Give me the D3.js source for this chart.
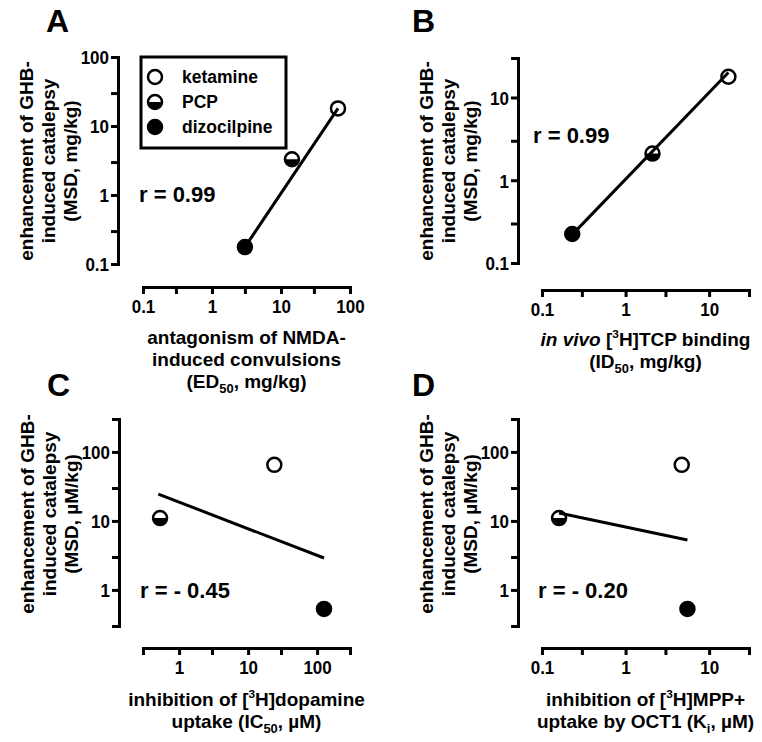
<!DOCTYPE html>
<html><head><meta charset="utf-8">
<script src="https://cdn.jsdelivr.net/npm/d3@7"></script>
<style>
body{margin:0;background:#fff}
text{font-family:"Liberation Sans",Arial,Helvetica,sans-serif;font-weight:bold;fill:#000}
</style>
</head><body>
<svg id="chart" width="762" height="742" xmlns="http://www.w3.org/2000/svg"></svg>
<script>
// ---------- data ----------
const compounds = ["ketamine", "PCP", "dizocilpine"];
const markerKinds = ["open", "half", "filled"];

// Panel A: antagonism of NMDA-induced convulsions vs catalepsy (mg/kg)
const aX = [67, 14.4, 3.0];
const aY = [18, 3.3, 0.176];
const aFitX = [3.0, 67];
const aFitY = [0.176, 18];
// Panel B: in vivo [3H]TCP binding vs catalepsy (mg/kg)
const bX = [17, 2.1, 0.23];
const bY = [17.8, 2.1, 0.224];
const bFitX = [0.23, 17];
const bFitY = [0.22, 20];
// Panel C: [3H]dopamine uptake vs catalepsy (µM/kg)
const cX = [24, 0.53, 126];
const cY = [65, 11, 0.53];
const cFitX = [0.5, 126];
const cFitY = [24.5, 2.9];
// Panel D: [3H]MPP+ uptake by OCT1 vs catalepsy (µM/kg)
const dX = [4.7, 0.16, 5.5];
const dY = [65, 11, 0.53];
const dFitX = [0.16, 5.5];
const dFitY = [13, 5.3];

// tick values (labelled) and minor ticks
const aXTicks = [0.1, 1, 10, 100], aXMinor = [0.3, 3, 30];
const aYTicks = [0.1, 1, 10, 100], aYMinor = [0.3, 3, 30];
const bXTicks = [0.1, 1, 10], bXMinor = [0.3, 3, 30];
const bYTicks = [0.1, 1, 10], bYMinor = [0.3, 3, 30];
const cXTicks = [1, 10, 100], cXMinor = [0.3, 3, 30, 300];
const cYTicks = [1, 10, 100], cYMinor = [0.3, 3, 30, 300];
const dXTicks = [0.1, 1, 10], dXMinor = [0.3, 3, 30];
const dYTicks = [1, 10, 100], dYMinor = [0.3, 3, 30, 300];

const rA = "r = 0.99", rB = "r = 0.99", rC = "r = - 0.45", rD = "r = - 0.20";

// ---------- drawing ----------
const svg = d3.select("#chart");
const fmt = d => (d < 1 ? String(d) : d3.format("d")(d));
const TICK_FS = 17, TICK_SY = 1.12, TITLE_FS = 19;

function addRich(sel, parts, size) {
  parts.forEach(p => {
    const t = sel.append("tspan").text(p.t);
    if (p.s === "sub") { t.attr("font-size", size * 0.68).attr("dy", size * 0.28); }
    else if (p.s === "sup") { t.attr("font-size", size * 0.62).attr("dy", -size * 0.42); }
    else if (p.s === "i") { t.attr("font-style", "italic"); }
    if (p.back) t.attr("dy", p.back);
  });
}

function marker(g, kind, cx, cy, r) {
  const m = g.append("g").attr("transform", `translate(${cx},${cy})`);
  m.append("circle").attr("r", r).attr("fill", kind === "filled" ? "#000" : "#fff");
  if (kind === "half") {
    m.append("path").attr("d", `M${-r},0 A${r},${r} 0 0 0 ${r},0 Z`).attr("fill", "#000");
  }
  m.append("circle").attr("r", r).attr("fill", "none").attr("stroke", "#000").attr("stroke-width", 2.5);
}

function panel(cfg) {
  const g = svg.append("g");
  const x = d3.scaleLog().domain(cfg.xDom).range([cfg.x0, cfg.x1]);
  const y = d3.scaleLog().domain(cfg.yDom).range([cfg.y0, cfg.y1]);

  // x axis
  const xa = g.append("g").attr("transform", `translate(0,${cfg.axY})`)
    .call(d3.axisBottom(x).tickValues(cfg.xTicks.concat(cfg.xMinor).sort((a, b) => a - b))
      .tickFormat(d => cfg.xTicks.includes(d) ? fmt(d) : "")
      .tickSize(7).tickSizeOuter(0).tickPadding(5));
  // y axis
  const ya = g.append("g").attr("transform", `translate(${cfg.axX},0)`)
    .call(d3.axisLeft(y).tickValues(cfg.yTicks.concat(cfg.yMinor).sort((a, b) => a - b))
      .tickFormat(d => cfg.yTicks.includes(d) ? fmt(d) : "")
      .tickSize(7).tickSizeOuter(0).tickPadding(3));
  [xa, ya].forEach(a => {
    a.select(".domain").attr("stroke", "#000").attr("stroke-width", 3).attr("stroke-linecap", "square");
    a.selectAll(".tick line").attr("stroke", "#000").attr("stroke-width", 3);
    a.selectAll(".tick text").attr("font-size", TICK_FS).attr("font-family", "Liberation Sans, Arial, sans-serif")
      .attr("font-weight", "bold").attr("fill", "#000");
  });
  xa.selectAll(".tick text").attr("y", null).attr("dy", null)
    .attr("transform", `translate(0,26) scale(1,${TICK_SY})`);
  ya.selectAll(".tick text").attr("x", null).attr("dy", "0.36em")
    .attr("transform", `translate(-9,0) scale(1,${TICK_SY})`);

  // markers
  cfg.xs.forEach((v, i) => marker(g, markerKinds[i], x(v), y(cfg.ys[i]), 7));
  // fit line
  g.append("path")
    .attr("d", d3.line().x(d => x(d[0])).y(d => y(d[1]))(cfg.fitX.map((v, i) => [v, cfg.fitY[i]])))
    .attr("fill", "none").attr("stroke", "#000").attr("stroke-width", 3);

  // panel letter
  g.append("text").attr("x", cfg.letterX).attr("y", cfg.letterY).attr("font-size", 32).text(cfg.letter);
  // r label
  g.append("text").attr("x", cfg.rX).attr("y", cfg.rY).attr("font-size", 22).text(cfg.r);

  // y title
  const yt = g.append("g").attr("transform", `translate(${cfg.axX - 85},${cfg.yTitleC}) rotate(-90)`);
  cfg.yTitle.forEach((line, i) => {
    yt.append("text").attr("x", 0).attr("y", i * 22).attr("text-anchor", "middle").attr("font-size", TITLE_FS).text(line);
  });
  // x title
  const xc = (cfg.x0 + cfg.x1) / 2;
  cfg.xTitle.forEach((parts, i) => {
    const t = g.append("text").attr("x", xc).attr("y", cfg.xTitleY + i * 22).attr("text-anchor", "middle").attr("font-size", TITLE_FS);
    addRich(t, parts, TITLE_FS);
  });
}

panel({
  letter: "A", letterX: 46, letterY: 32,
  x0: 143, x1: 350, y0: 264, y1: 57, axX: 118, axY: 287,
  xDom: [0.1, 100], yDom: [0.1, 100],
  xTicks: aXTicks, xMinor: aXMinor, yTicks: aYTicks, yMinor: aYMinor,
  xs: aX, ys: aY, fitX: aFitX, fitY: aFitY,
  r: rA, rX: 139, rY: 202,
  yTitle: ["enhancement of GHB-", "induced catalepsy", "(MSD, mg/kg)"], yTitleC: 161,
  xTitle: [[{t: "antagonism of NMDA-"}], [{t: "induced convulsions"}],
           [{t: "(ED"}, {t: "50", s: "sub"}, {t: ", mg/kg)", back: -TITLE_FS * 0.28}]],
  xTitleY: 344
});
panel({
  letter: "B", letterX: 412, letterY: 32,
  x0: 542, x1: 749, y0: 263, y1: 58, axX: 518, axY: 290,
  xDom: [0.1, 30], yDom: [0.1, 30],
  xTicks: bXTicks, xMinor: bXMinor, yTicks: bYTicks, yMinor: bYMinor,
  xs: bX, ys: bY, fitX: bFitX, fitY: bFitY,
  r: rB, rX: 533, rY: 143,
  yTitle: ["enhancement of GHB-", "induced catalepsy", "(MSD, mg/kg)"], yTitleC: 161,
  xTitle: [[{t: "in vivo", s: "i"}, {t: " ["}, {t: "3", s: "sup"}, {t: "H]TCP binding", back: TITLE_FS * 0.42}],
           [{t: "(ID"}, {t: "50", s: "sub"}, {t: ", mg/kg)", back: -TITLE_FS * 0.28}]],
  xTitleY: 346
});
panel({
  letter: "C", letterX: 47, letterY: 396,
  x0: 143, x1: 350, y0: 626, y1: 419, axX: 119, axY: 648,
  xDom: [0.3, 300], yDom: [0.3, 300],
  xTicks: cXTicks, xMinor: cXMinor, yTicks: cYTicks, yMinor: cYMinor,
  xs: cX, ys: cY, fitX: cFitX, fitY: cFitY,
  r: rC, rX: 140, rY: 598,
  yTitle: ["enhancement of GHB-", "induced catalepsy", "(MSD, \u00b5M/kg)"], yTitleC: 514,
  xTitle: [[{t: "inhibition of ["}, {t: "3", s: "sup"}, {t: "H]dopamine", back: TITLE_FS * 0.42}],
           [{t: "uptake (IC"}, {t: "50", s: "sub"}, {t: ", \u00b5M)", back: -TITLE_FS * 0.28}]],
  xTitleY: 706
});
panel({
  letter: "D", letterX: 412, letterY: 396,
  x0: 542, x1: 749, y0: 626, y1: 419, axX: 518, axY: 648,
  xDom: [0.1, 30], yDom: [0.3, 300],
  xTicks: dXTicks, xMinor: dXMinor, yTicks: dYTicks, yMinor: dYMinor,
  xs: dX, ys: dY, fitX: dFitX, fitY: dFitY,
  r: rD, rX: 538, rY: 598,
  yTitle: ["enhancement of GHB-", "induced catalepsy", "(MSD, \u00b5M/kg)"], yTitleC: 514,
  xTitle: [[{t: "inhibition of ["}, {t: "3", s: "sup"}, {t: "H]MPP+", back: TITLE_FS * 0.42}],
           [{t: "uptake by OCT1 (K"}, {t: "i", s: "sub"}, {t: ", \u00b5M)", back: -TITLE_FS * 0.28}]],
  xTitleY: 706
});

// legend (panel A)
const leg = svg.append("g");
leg.append("rect").attr("x", 141).attr("y", 57).attr("width", 145).attr("height", 91)
  .attr("fill", "#fff").attr("stroke", "#000").attr("stroke-width", 3);
compounds.forEach((c, i) => {
  marker(leg, markerKinds[i], 155, 77 + i * 25, 7);
  leg.append("text").attr("x", 182).attr("y", 83 + i * 25).attr("font-size", 17.5).text(c);
});
</script>
</body></html>
